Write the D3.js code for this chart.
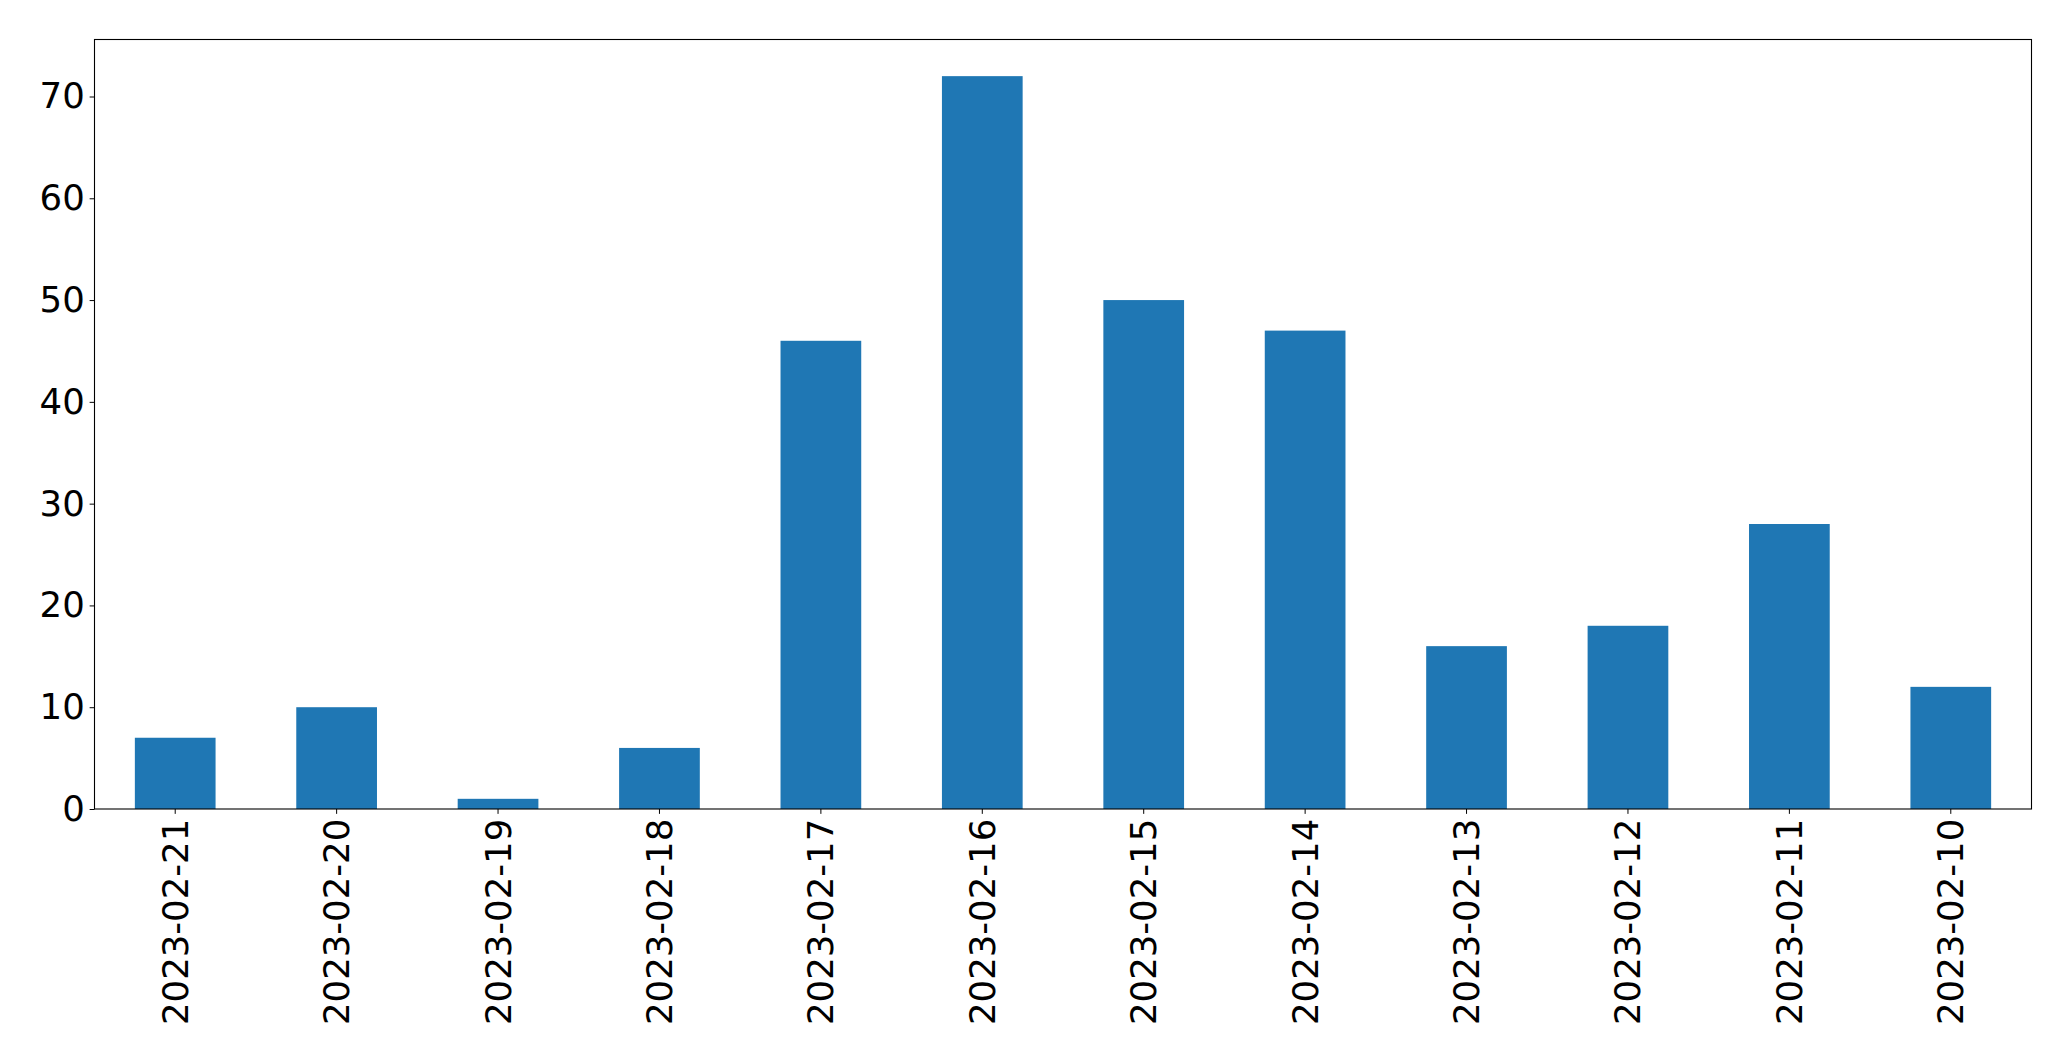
<!DOCTYPE html>
<html>
<head>
<meta charset="utf-8">
<script src="https://cdn.jsdelivr.net/npm/d3@7"></script>
<style>
  html, body { margin: 0; padding: 0; background: #fff; }
  svg { display: block; }
</style>
</head>
<body>
<svg id="chart" width="2071" height="1061"></svg>
<script>
const categories = ["2023-02-21","2023-02-20","2023-02-19","2023-02-18","2023-02-17","2023-02-16","2023-02-15","2023-02-14","2023-02-13","2023-02-12","2023-02-11","2023-02-10"];
const values = [7, 10, 1, 6, 46, 72, 50, 47, 16, 18, 28, 12];
const yTicks = [0, 10, 20, 30, 40, 50, 60, 70];

const W = 2071, H = 1061;
const margin = {left: 94.5, top: 39.5, right: W - 2031.5, bottom: H - 809};
const iw = W - margin.left - margin.right;
const ih = H - margin.top - margin.bottom;

const svg = d3.select("#chart");
const g = svg.append("g").attr("transform", `translate(${margin.left},${margin.top})`);

const x = d3.scaleBand().domain(categories).range([0, iw]).paddingInner(0.5).paddingOuter(0.25);
const y = d3.scaleLinear().domain([0, d3.max(values) * 1.05]).range([ih, 0]);

g.selectAll("rect.bar").data(values).join("rect")
  .attr("class", "bar")
  .attr("x", (d, i) => x(categories[i]))
  .attr("y", d => y(d))
  .attr("width", x.bandwidth())
  .attr("height", d => y(0) - y(d))
  .attr("fill", "#1f77b4");

const font = "DejaVu Sans, sans-serif";
const fs = 35.5;
const tickLen = 4.86, pad = 4.86;

const yAxis = g.append("g").call(d3.axisLeft(y).tickValues(yTicks).tickSize(tickLen).tickPadding(pad).tickFormat(d3.format("d")));
yAxis.select(".domain").remove();
yAxis.selectAll("line").attr("stroke", "#000").attr("stroke-width", 1);
yAxis.selectAll("text").attr("font-family", font).attr("font-size", fs).attr("fill", "#000");

const xAxis = g.append("g").attr("transform", `translate(0,${ih})`)
  .call(d3.axisBottom(x).tickSize(tickLen).tickPadding(pad));
xAxis.select(".domain").remove();
xAxis.selectAll("line").attr("stroke", "#000").attr("stroke-width", 1);
xAxis.selectAll("text")
  .attr("font-family", font).attr("font-size", fs).attr("fill", "#000")
  .attr("dy", null)
  .attr("y", 0)
  .attr("x", 0)
  .attr("transform", `translate(0,${tickLen + pad}) rotate(-90)`)
  .attr("text-anchor", "end")
  .attr("dominant-baseline", "central");

g.append("rect").attr("x", 0).attr("y", 0).attr("width", iw).attr("height", ih)
  .attr("fill", "none").attr("stroke", "#000").attr("stroke-width", 1.1);
</script>
</body>
</html>
